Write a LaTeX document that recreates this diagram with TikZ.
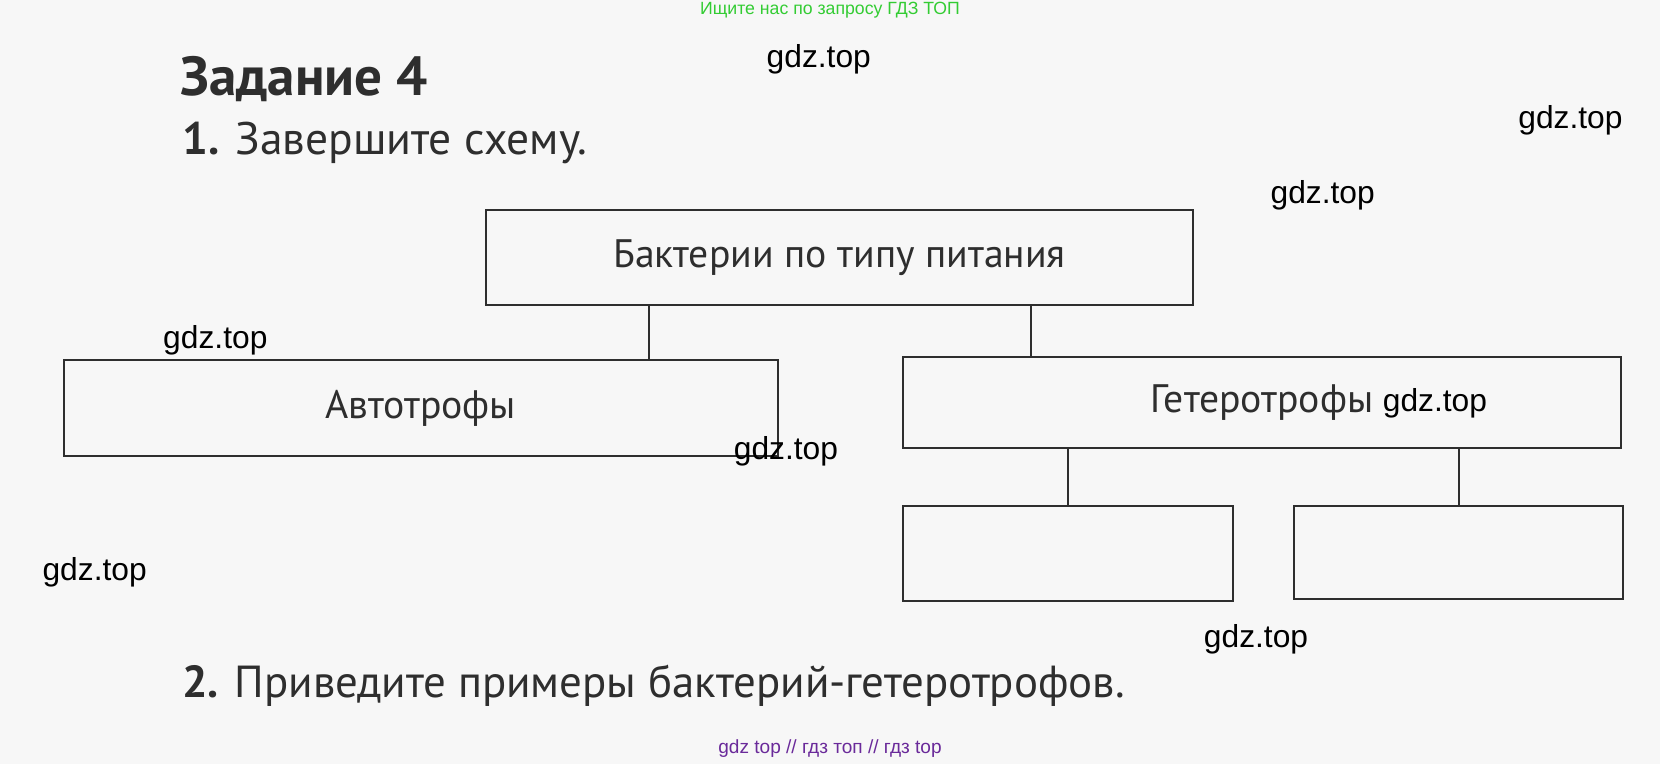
\documentclass[tikz,border=0pt]{standalone}
\usepackage{fontspec}
\setmainfont{PT Sans}
\newfontfamily\wmfont{Liberation Sans}
\definecolor{ink}{HTML}{2E2E2E}
\definecolor{wmgreen}{HTML}{33CC33}
\definecolor{wmpurple}{HTML}{6A2A9A}

\begin{document}
\begin{tikzpicture}[x=1pt,y=-1pt,scale=1.0587,every node/.style={transform shape}]
\tikzstyle{box}=[draw=ink, line width=2pt, inner sep=0pt, text=ink, font=\fontsize{37.5}{44}\selectfont]
\tikzstyle{link}=[draw=ink, line width=2pt]
\tikzstyle{wm}=[inner sep=0pt, anchor=base west, font=\wmfont\fontsize{30}{36}\selectfont]
\tikzstyle{task}=[inner sep=0pt, anchor=base west, text=ink, font=\fontsize{43}{50}\selectfont]
\fill[black!3] (0,0) rectangle (1568,721.6);
\useasboundingbox (0,0) rectangle (1568,721.6);
\node (head) [inner sep=0pt, text=wmgreen, font=\wmfont\fontsize{16.7}{20}\selectfont] at (784,10) {Ищите нас по запросу ГДЗ ТОП};
\node (foot) [inner sep=0pt, text=wmpurple, font=\wmfont\fontsize{18}{21}\selectfont] at (784,707) {gdz top // гдз топ // гдз top};
\node (title) [task, font=\bfseries\fontsize{52}{60}\selectfont] at (170,90) {Задание 4};
\node (q1) [task] at (172,146) {\textbf{1.} Завершите схему.};
\node (q2) [task, font=\fontsize{42.4}{50}\selectfont] at (172,659) {\textbf{2.} Приведите примеры бактерий-гетеротрофов.};
\node (top) [box, minimum width=668pt, minimum height=90pt] at (793,243) {Бактерии по типу питания};
\node (auto) [box, minimum width=675pt, minimum height=91pt] at (397.5,385.5) {Автотрофы};
\node (het) [box, minimum width=678pt, minimum height=86pt] at (1192,380) {Гетеротрофы};
\node (het1) [box, minimum width=312pt, minimum height=90pt] at (1009,523) {};
\node (het2) [box, minimum width=311pt, minimum height=88pt] at (1377.5,522) {};
\draw[link] ([xshift=-180pt]top.south) -- ([xshift=-180pt]top.south |- auto.north);
\draw[link] ([xshift=181pt]top.south) -- ([xshift=181pt]top.south |- het.north);
\draw[link] (het1.north |- het.south) -- (het1.north);
\draw[link] (het2.north |- het.south) -- (het2.north);
\node (wm1) [wm] at (724,64) {gdz.top};
\node (wm2) [wm] at (1434,121) {gdz.top};
\node (wm3) [wm] at (1200,192) {gdz.top};
\node (wm4) [wm] at (154,329) {gdz.top};
\node (wm5) [wm] at (693,434) {gdz.top};
\node (wm6) [wm] at (40,548) {gdz.top};
\node (wm7) [wm] at (1137,612) {gdz.top};
\node (wm8) [wm] at (1306,389) {gdz.top};
\end{tikzpicture}
\end{document}
